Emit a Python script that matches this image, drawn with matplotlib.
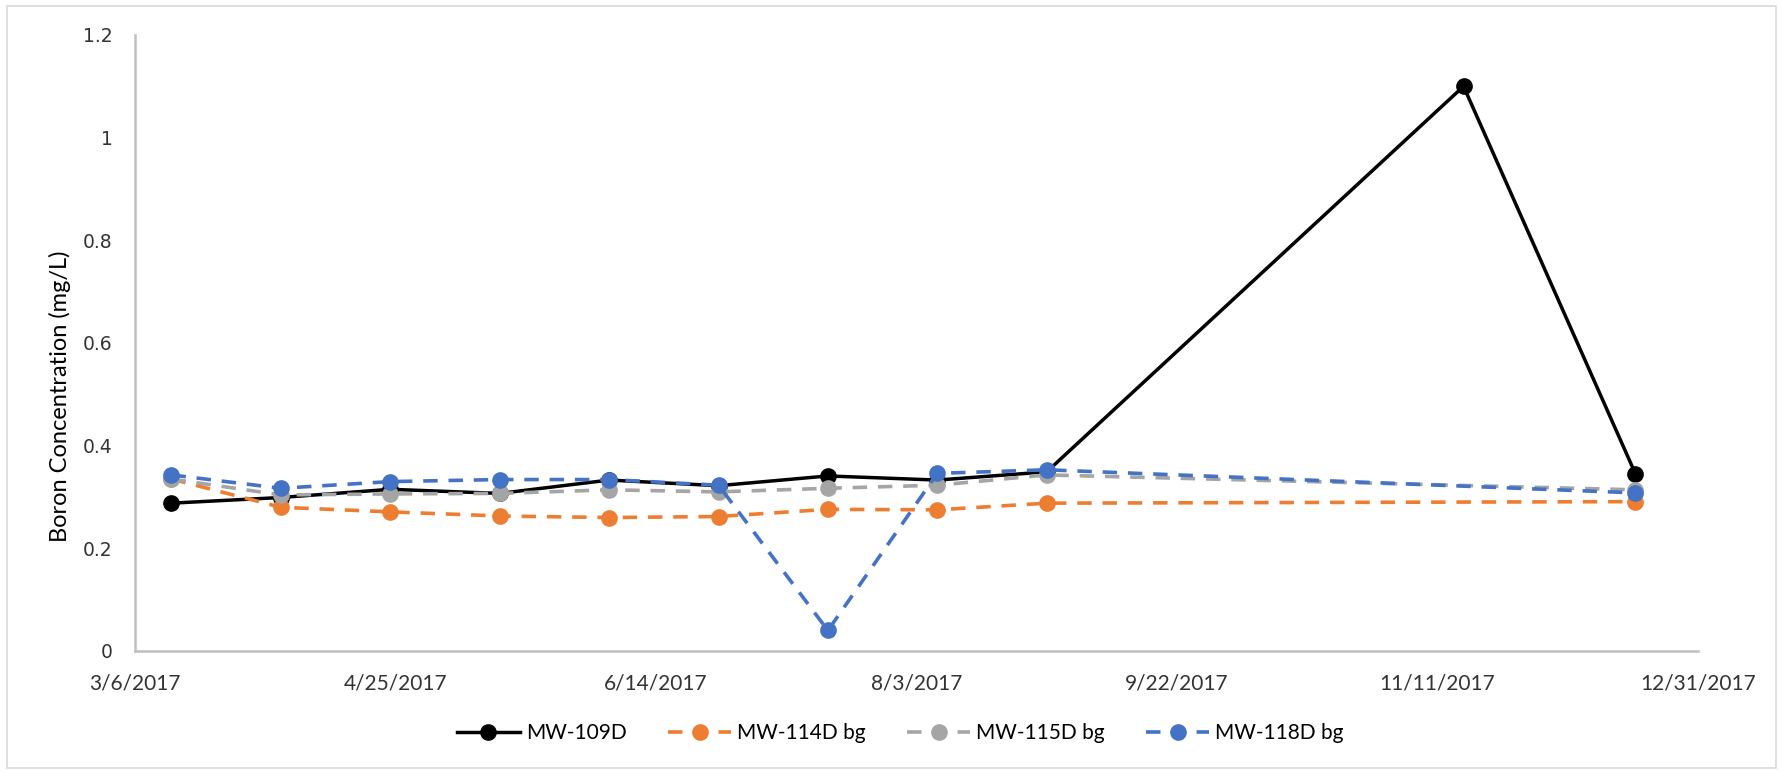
import matplotlib
matplotlib.use("Agg")
import matplotlib.pyplot as plt
from matplotlib.patches import Rectangle
import pandas as pd

# Sampling dates
dates_109 = ["2017-03-13", "2017-04-03", "2017-04-24", "2017-05-15", "2017-06-05",
             "2017-06-26", "2017-07-17", "2017-08-07", "2017-08-28", "2017-11-16",
             "2017-12-19"]
dates_bg = ["2017-03-13", "2017-04-03", "2017-04-24", "2017-05-15", "2017-06-05",
            "2017-06-26", "2017-07-17", "2017-08-07", "2017-08-28", "2017-12-19"]

# Boron concentrations (mg/L)
mw_109d = [0.288, 0.299, 0.315, 0.307, 0.333, 0.322, 0.341, 0.333, 0.349, 1.10, 0.345]
mw_114d = [0.335, 0.280, 0.271, 0.263, 0.260, 0.262, 0.276, 0.275, 0.288, 0.291]
mw_115d = [0.335, 0.304, 0.306, 0.307, 0.314, 0.310, 0.317, 0.323, 0.343, 0.314]
mw_118d = [0.343, 0.317, 0.330, 0.334, 0.334, 0.323, 0.040, 0.346, 0.353, 0.308]

series_names = ["MW-109D", "MW-114D bg", "MW-115D bg", "MW-118D bg"]

x_start, x_end = "2017-03-06", "2017-12-31"
y_ticks = [0, 0.2, 0.4, 0.6, 0.8, 1.0, 1.2]
y_tick_labels = ["0", "0.2", "0.4", "0.6", "0.8", "1", "1.2"]

W, H, DPI = 1783, 771, 100
fig = plt.figure(figsize=(W / DPI, H / DPI), dpi=DPI)
ax = fig.add_axes([135 / W, 1 - 651 / H, (1698 - 135) / W, (651 - 35) / H])

label_font = "Lato"
text_color = "#333333"
dash = (0, (4, 3))

d109 = pd.to_datetime(dates_109)
dbg = pd.to_datetime(dates_bg)

ax.plot(d109, mw_109d, color="black", lw=2.5, marker="o", ms=11,
        label=series_names[0], zorder=3)
ax.plot(dbg, mw_114d, color="#ED7D31", lw=2.6, ls=dash, marker="o", ms=11,
        label=series_names[1], zorder=4)
ax.plot(dbg, mw_115d, color="#A5A5A5", lw=2.6, ls=dash, marker="o", ms=11,
        label=series_names[2], zorder=5)
ax.plot(dbg, mw_118d, color="#4472C4", lw=2.6, ls=dash, marker="o", ms=11,
        label=series_names[3], zorder=6)

ax.set_xlim(pd.Timestamp(x_start), pd.Timestamp(x_end))
ax.set_ylim(0, 1.2)

xt = pd.date_range(x_start, x_end, freq="50D")
ax.set_xticks(xt)
ax.set_xticklabels([f"{d.month}/{d.day}/{d.year}" for d in xt],
                   fontfamily=label_font, fontsize=15, color=text_color)
ax.set_yticks(y_ticks)
ax.set_yticklabels(y_tick_labels, fontfamily="DejaVu Sans", fontsize=13.5, color=text_color)
ax.tick_params(axis="x", length=0, pad=16)
ax.tick_params(axis="y", length=0, pad=16)

for side in ("top", "right"):
    ax.spines[side].set_visible(False)
for side in ("left", "bottom"):
    ax.spines[side].set_color("#BFBFBF")
    ax.spines[side].set_linewidth(1.8)

ax.set_ylabel("Boron Concentration (mg/L)", fontfamily=label_font, fontsize=17,
              color="black")
ax.yaxis.set_label_coords(-0.041, 0.414)

leg = fig.legend(loc="center", bbox_to_anchor=(0.505, 1 - 733 / H), ncol=4,
                 frameon=False, prop={"family": label_font, "size": 15},
                 handlelength=3.0, columnspacing=2.0, handletextpad=0.3)
for t in leg.get_texts():
    t.set_color("black")

# Chart area border
fig.patches.append(Rectangle((7 / W, 3 / H), (1776 - 7) / W, (765 - 3) / H,
                             transform=fig.transFigure, fill=False,
                             edgecolor="#D9D9D9", lw=1.2))

fig.savefig("out.png", dpi=DPI)
